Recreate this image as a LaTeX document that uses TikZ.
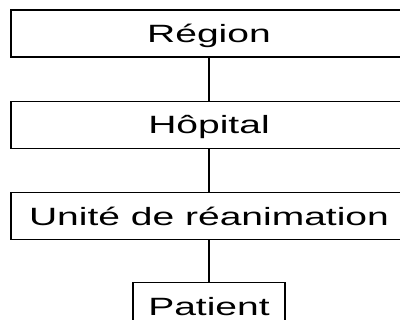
\documentclass[tikz,border=0pt]{standalone}
\usepackage{fontspec}
\usepackage{tikz}
\usetikzlibrary{positioning}
\newfontfamily\boxfont[FakeStretch=1.56]{Liberation Sans}

\begin{document}
\begin{tikzpicture}[x=1pt, y=1pt, line width=1.2pt,
    every node/.style={draw, inner sep=0pt, minimum height=47pt, font=\boxfont\fontsize{25pt}{30pt}\selectfont, text depth=0},
    wide/.style={minimum width=396pt}]
        \clip (0,0) rectangle (400,-320);
        \node[wide] (rg) at (209,-33.5) {Région};
        \node[wide, below=43pt of rg] (hp) {Hôpital};
        \node[wide, below=43pt of hp] (ur) {Unité de réanimation};
        \node[minimum width=152pt, below=42pt of ur] (pt) {Patient};
        \draw (rg) -- (hp);
        \draw (hp) -- (ur);
        \draw (ur) -- (pt);
    \end{tikzpicture}
\end{document}
